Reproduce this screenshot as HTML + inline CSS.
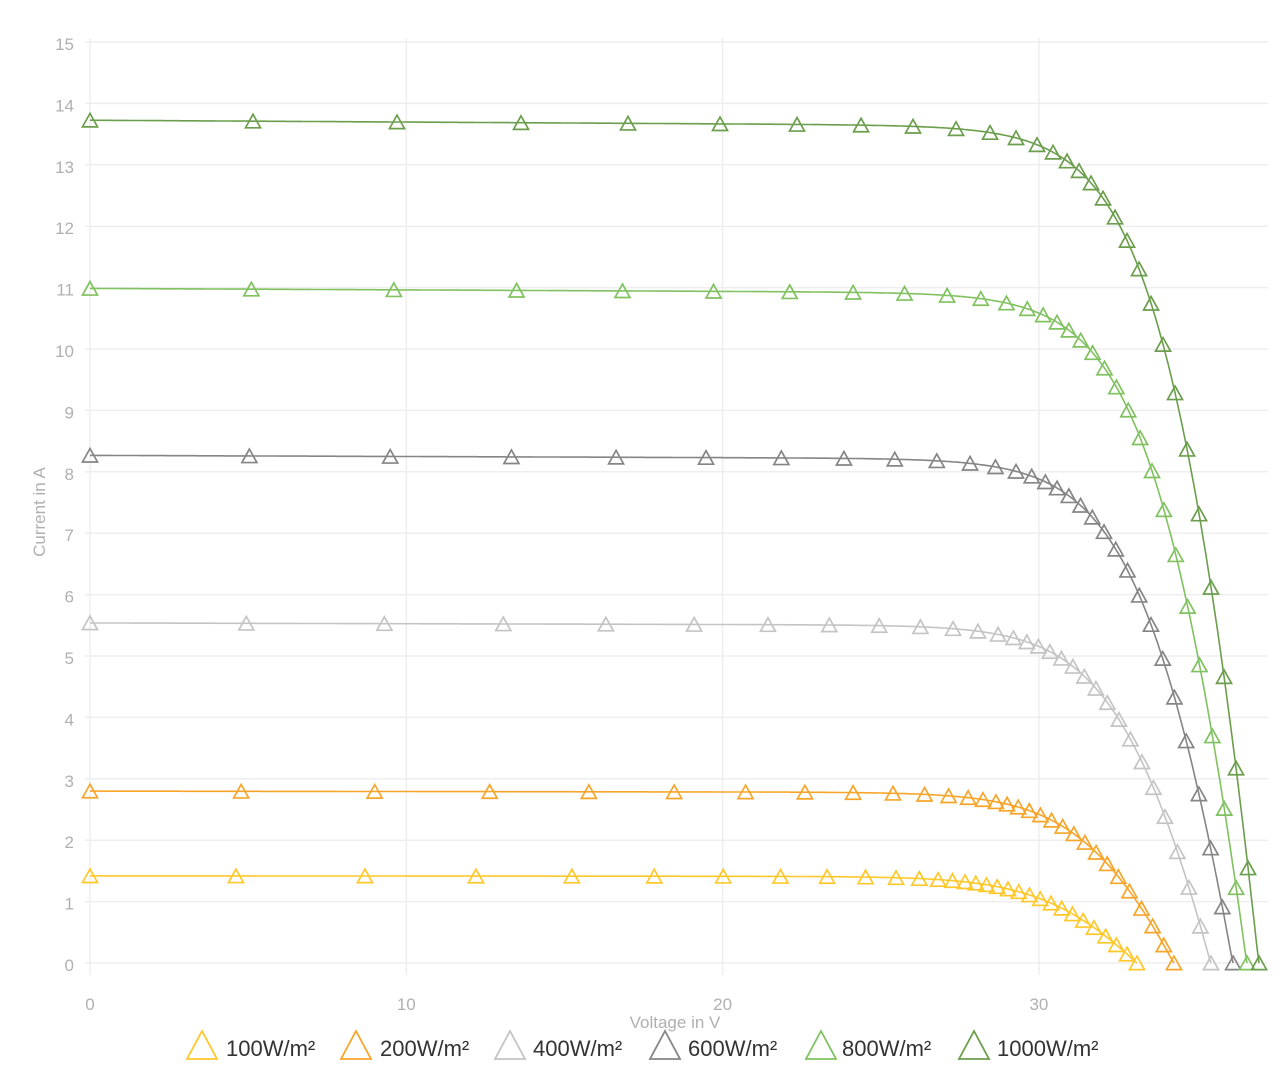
<!DOCTYPE html>
<html><head><meta charset="utf-8"><style>
html,body{margin:0;padding:0;background:#fff;width:1286px;height:1091px;overflow:hidden}
svg{display:block}
text{font-family:"Liberation Sans",sans-serif}
</style></head><body>
<svg id="s" width="1286" height="1091" xmlns="http://www.w3.org/2000/svg"></svg>
<script>
var s=document.getElementById('s'),h='';
function X(v){return 90+v*31.63}
function Y(i){return 963-i*61.4}
for(var k=0;k<=15;k++){var y=Y(k);h+='<line x1="85" x2="1268" y1="'+y+'" y2="'+y+'" stroke="#eeeeee" stroke-width="1.5"/>';
h+='<text x="74" y="'+(y+8)+'" text-anchor="end" font-size="17" fill="#b0b0b0">'+k+'</text>';}
for(var k=0;k<=30;k+=10){var x=X(k);h+='<line x1="'+x+'" x2="'+x+'" y1="38" y2="975" stroke="#eeeeee" stroke-width="1.5"/>';
h+='<text x="'+x+'" y="1010" text-anchor="middle" font-size="17" fill="#b0b0b0">'+k+'</text>';}
h+='<text x="675" y="1028" text-anchor="middle" font-size="17" fill="#b0b0b0">Voltage in V</text>';
h+='<text transform="translate(45,512) rotate(-90)" text-anchor="middle" font-size="17" fill="#b0b0b0">Current in A</text>';
var series=[[1.42,33.1,'#ffc82a'],[2.80,34.27,'#f7a52a'],[5.54,35.44,'#c4c4c4'],[8.27,36.14,'#858585'],[10.99,36.58,'#80c160'],[13.73,36.96,'#6b9e4c']];
var px=[90,253,397,521,628,720,797,861,913,956,990,1016,1037,1053,1067,1079,1091,1103,1115,1127,1139,1151,1163,1175,1187,1199,1211,1224,1236,1248,1259];
function tri(x,y,sz,c,w){var r=sz/2;return '<polygon points="'+x+','+(y-r*1.05)+' '+(x-r)+','+(y+r*0.75)+' '+(x+r)+','+(y+r*0.75)+'" fill="none" stroke="'+c+'" stroke-width="'+w+'"/>';}
series.forEach(function(sr){
 var Isc=sr[0],Voc=sr[1],c=sr[2],a=1.5,Rs=0.1*13.73/Isc;
 var I0=Isc/(Math.exp(Voc/a)-1);
 var pts=[];
 for(var j=0;j<=3000;j++){var vd=Voc*j/3000;var i=Isc*(1-0.008*vd/Voc)-I0*(Math.exp(vd/a)-1);if(j==3000)i=0;i=Math.max(0,i);pts.push([vd-i*Rs,i]);}
 function I(v){if(v<=pts[0][0])return pts[0][1];for(var j=1;j<pts.length;j++){if(pts[j][0]>=v){var p=pts[j-1],q=pts[j];var t=(v-p[0])/((q[0]-p[0])||1);return p[1]+t*(q[1]-p[1]);}}return 0;}
 var d='';
 for(var j=0;j<=500;j++){var v=Voc*j/500;d+=(j?'L':'M')+X(v).toFixed(1)+','+Y(I(v)).toFixed(1);}
 h+='<path d="'+d+'" fill="none" stroke="'+c+'" stroke-width="1.6"/>';
 px.forEach(function(p){var v=(p-90)/(1259-90)*Voc;h+=tri(X(v),Y(I(v))+1,15,c,1.7);});
});
var lg=[[187,226,'100W/m²',0],[341,380,'200W/m²',1],[495,533,'400W/m²',2],[650,688,'600W/m²',3],[806,842,'800W/m²',4],[959,997,'1000W/m²',5]];
lg.forEach(function(l){var c=series[l[3]][2];
 h+='<polygon points="'+(l[0]+15)+',1031 '+l[0]+',1059 '+(l[0]+30)+',1059" fill="none" stroke="'+c+'" stroke-width="1.8"/>';
 h+='<text x="'+l[1]+'" y="1056" font-size="22" fill="#333">'+l[2]+'</text>';});
s.innerHTML=h;
</script>
</body></html>
